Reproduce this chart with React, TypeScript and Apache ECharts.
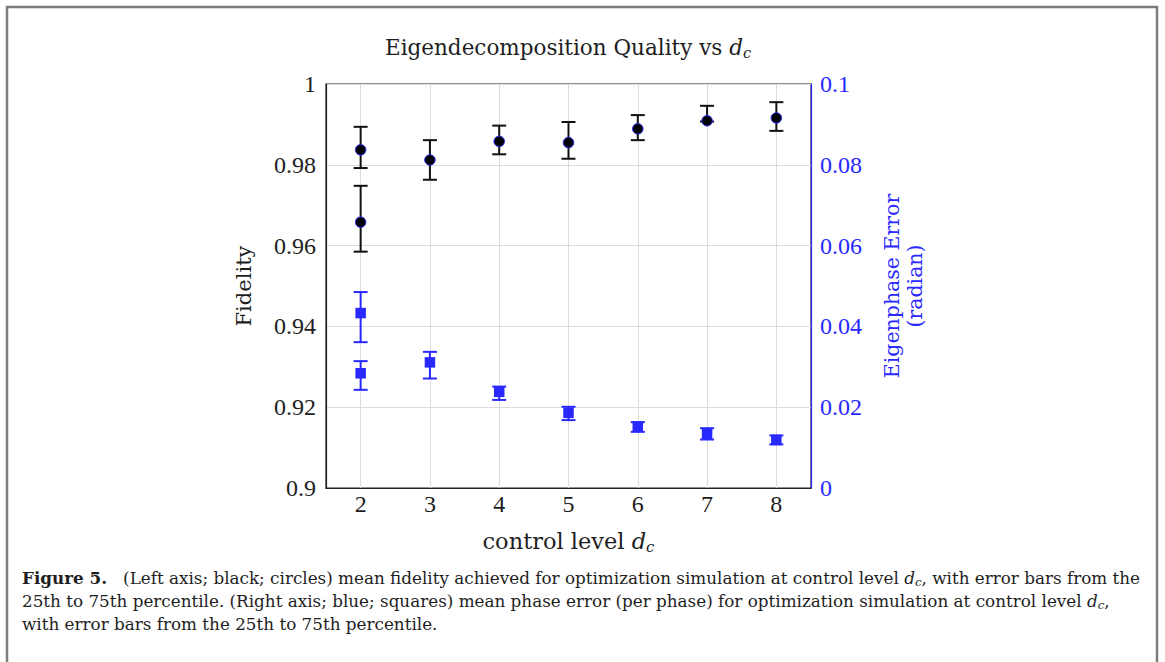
import React, { useEffect, useRef } from "react";
import * as echarts from "echarts";

// ---- data ----
const controlLevels = [2, 2, 3, 4, 5, 6, 7, 8];
const fidelityMean = [0.9837, 0.9658, 0.9812, 0.9858, 0.9855, 0.9889, 0.9909, 0.9916];
const fidelityP25 = [0.9792, 0.9585, 0.9763, 0.9826, 0.9815, 0.9861, 0.9907, 0.9884];
const fidelityP75 = [0.9894, 0.9748, 0.9861, 0.9897, 0.9906, 0.9923, 0.9946, 0.9955];

const phaseLevels = [2, 2, 3, 4, 5, 6, 7, 8];
const phaseMean = [0.0433, 0.0284, 0.0311, 0.0238, 0.0186, 0.0152, 0.0134, 0.0119];
const phaseP25 = [0.0361, 0.0243, 0.0271, 0.0218, 0.0168, 0.0139, 0.012, 0.0108];
const phaseP75 = [0.0485, 0.0314, 0.0337, 0.0251, 0.0201, 0.0163, 0.0148, 0.013];

const xTicks = [2, 3, 4, 5, 6, 7, 8];
const leftTicks = ["0.9", "0.92", "0.94", "0.96", "0.98", "1"];
const rightTicks = ["0", "0.02", "0.04", "0.06", "0.08", "0.1"];

const BLUE = "#2828ff";
const INK = "#1e1e1e";
const SERIF = "'Liberation Serif', serif";
const WIDE = "'DejaVu Serif', serif";
const CAP = 16.8;

function errorBarRender(color: string) {
  return (params: any, api: any) => {
    const x = api.value(0);
    const lo = api.coord([x, api.value(1)]);
    const hi = api.coord([x, api.value(2)]);
    const cap = 7;
    const style = { stroke: color, lineWidth: 2 };
    return {
      type: "group",
      children: [
        { type: "line", shape: { x1: lo[0], y1: lo[1], x2: hi[0], y2: hi[1] }, style },
        { type: "line", shape: { x1: lo[0] - cap, y1: lo[1], x2: lo[0] + cap, y2: lo[1] }, style },
        { type: "line", shape: { x1: hi[0] - cap, y1: hi[1], x2: hi[0] + cap, y2: hi[1] }, style },
      ],
    };
  };
}

export default function App() {
  const ref = useRef<HTMLDivElement>(null);
  useEffect(() => {
    if (!ref.current) return;
    const chart = echarts.init(ref.current, null, { renderer: "svg" });
    const capRich = {
      b: { fontWeight: "bold", fontSize: CAP, fontFamily: WIDE, fill: INK },
      i: { fontStyle: "italic", fontSize: CAP, fontFamily: WIDE, fill: INK, lineHeight: 20 },
      s: { fontStyle: "italic", fontSize: 11.8, fontFamily: WIDE, fill: INK, verticalAlign: "bottom", lineHeight: 13 },
    };
    const option: any = {
      animation: false,
      backgroundColor: "#ffffff",
      textStyle: { fontFamily: SERIF },
      grid: {
        left: 326,
        right: 354,
        top: 84,
        bottom: 174,
        show: true,
        borderColor: "#222",
        borderWidth: 1.2,
        backgroundColor: "transparent",
      },
      xAxis: {
        type: "value",
        min: 1.5,
        max: 8.5,
        splitNumber: 7,
        name: "control level {i|d}{s|c}",
        nameLocation: "middle",
        nameGap: 39,
        nameTextStyle: {
          color: INK,
          fontSize: 22.5,
          fontFamily: WIDE,
          rich: {
            i: { fontSize: 22.5, fontStyle: "italic", fontFamily: WIDE, color: INK, lineHeight: 27 },
            s: { fontSize: 15, fontStyle: "italic", fontFamily: WIDE, color: INK, verticalAlign: "bottom", lineHeight: 18 },
          },
        },
        axisLine: { show: true, lineStyle: { color: "#222", width: 1.2 } },
        axisTick: { show: false },
        axisLabel: {
          color: INK,
          fontSize: 24,
          fontFamily: SERIF,
          margin: 4,
          formatter: (v: number) => (xTicks.indexOf(v) >= 0 ? String(v) : ""),
        },
        splitLine: { show: true, lineStyle: { color: "#dcdcdc", width: 1 } },
      },
      yAxis: [
        {
          type: "value",
          min: 0.9,
          max: 1,
          interval: 0.02,
          position: "left",
          name: "Fidelity",
          nameLocation: "middle",
          nameGap: 72,
          nameTextStyle: { color: INK, fontSize: 21, fontFamily: WIDE },
          axisLine: { show: true, lineStyle: { color: "#222", width: 1.2 } },
          axisTick: { show: false },
          axisLabel: {
            color: INK,
            fontSize: 24,
            fontFamily: SERIF,
            margin: 10,
            formatter: (v: number) => {
              const idx = Math.round((v - 0.9) / 0.02);
              return leftTicks[idx] ?? "";
            },
          },
          splitLine: { show: true, lineStyle: { color: "#dcdcdc", width: 1 } },
        },
        {
          type: "value",
          min: 0,
          max: 0.1,
          interval: 0.02,
          position: "right",
          name: "Eigenphase Error\n(radian)",
          nameLocation: "middle",
          nameRotate: 90,
          nameGap: 69,
          nameTextStyle: { color: BLUE, fontSize: 20.5, fontFamily: WIDE, lineHeight: 23, align: "center" },
          axisLine: { show: true, lineStyle: { color: BLUE, width: 1.2 } },
          axisTick: { show: false },
          axisLabel: {
            color: BLUE,
            fontSize: 24,
            fontFamily: SERIF,
            margin: 9,
            formatter: (v: number) => {
              const idx = Math.round(v / 0.02);
              return rightTicks[idx] ?? "";
            },
          },
          splitLine: { show: false },
        },
      ],
      graphic: [
        {
          type: "rect",
          shape: { x: 7, y: 7, width: 1150, height: 700 },
          style: { fill: "none", stroke: "#7d7d7d", lineWidth: 2.5 },
          silent: true,
          z: -10,
        },
        {
          type: "text",
          x: 568,
          y: 47,
          style: {
            text: "Eigendecomposition Quality vs {i|d}{s|c}",
            fill: INK,
            font: `21.5px ${WIDE}`,
            align: "center",
            verticalAlign: "middle",
            rich: {
              i: { fontSize: 21.5, fontStyle: "italic", fontFamily: WIDE, fill: INK, lineHeight: 26 },
              s: { fontSize: 14.5, fontStyle: "italic", fontFamily: WIDE, fill: INK, verticalAlign: "bottom", lineHeight: 17 },
            },
          },
        },
        {
          type: "text",
          x: 22,
          y: 578,
          style: {
            text:
              "{b|Figure 5.}   (Left axis; black; circles) mean fidelity achieved for optimization simulation at control level {i|d}{s|c}, with error bars from the",
            fill: INK,
            font: `${CAP}px ${WIDE}`,
            verticalAlign: "middle",
            rich: capRich,
          },
        },
        {
          type: "text",
          x: 22,
          y: 601,
          style: {
            text:
              "25th to 75th percentile. (Right axis; blue; squares) mean phase error (per phase) for optimization simulation at control level {i|d}{s|c},",
            fill: INK,
            font: `${CAP}px ${WIDE}`,
            verticalAlign: "middle",
            rich: capRich,
          },
        },
        {
          type: "text",
          x: 22,
          y: 624,
          style: {
            text: "with error bars from the 25th to 75th percentile.",
            fill: INK,
            font: `${CAP}px ${WIDE}`,
            verticalAlign: "middle",
          },
        },
      ],
      series: [
        {
          name: "Fidelity IQR",
          type: "custom",
          xAxisIndex: 0,
          yAxisIndex: 0,
          renderItem: errorBarRender("#111"),
          data: controlLevels.map((x, i) => [x, fidelityP25[i], fidelityP75[i]]),
          encode: { x: 0, y: [1, 2] },
          z: 2,
          silent: true,
        },
        {
          name: "Fidelity",
          type: "scatter",
          xAxisIndex: 0,
          yAxisIndex: 0,
          symbol: "circle",
          symbolSize: 10.5,
          itemStyle: { color: "#000", borderColor: BLUE, borderWidth: 1, opacity: 1 },
          data: controlLevels.map((x, i) => [x, fidelityMean[i]]),
          z: 3,
        },
        {
          name: "Phase error IQR",
          type: "custom",
          xAxisIndex: 0,
          yAxisIndex: 1,
          renderItem: errorBarRender(BLUE),
          data: phaseLevels.map((x, i) => [x, phaseP25[i], phaseP75[i]]),
          encode: { x: 0, y: [1, 2] },
          z: 2,
          silent: true,
        },
        {
          name: "Phase error",
          type: "scatter",
          xAxisIndex: 0,
          yAxisIndex: 1,
          symbol: "rect",
          symbolSize: 10.5,
          itemStyle: { color: BLUE, opacity: 1 },
          data: phaseLevels.map((x, i) => [x, phaseMean[i]]),
          z: 3,
        },
      ],
    };
    chart.setOption(option);
    return () => chart.dispose();
  }, []);
  return (
    <div
      ref={ref}
      style={{ position: "fixed", left: 0, top: 0, width: 1165, height: 662, background: "#fff" }}
    />
  );
}
